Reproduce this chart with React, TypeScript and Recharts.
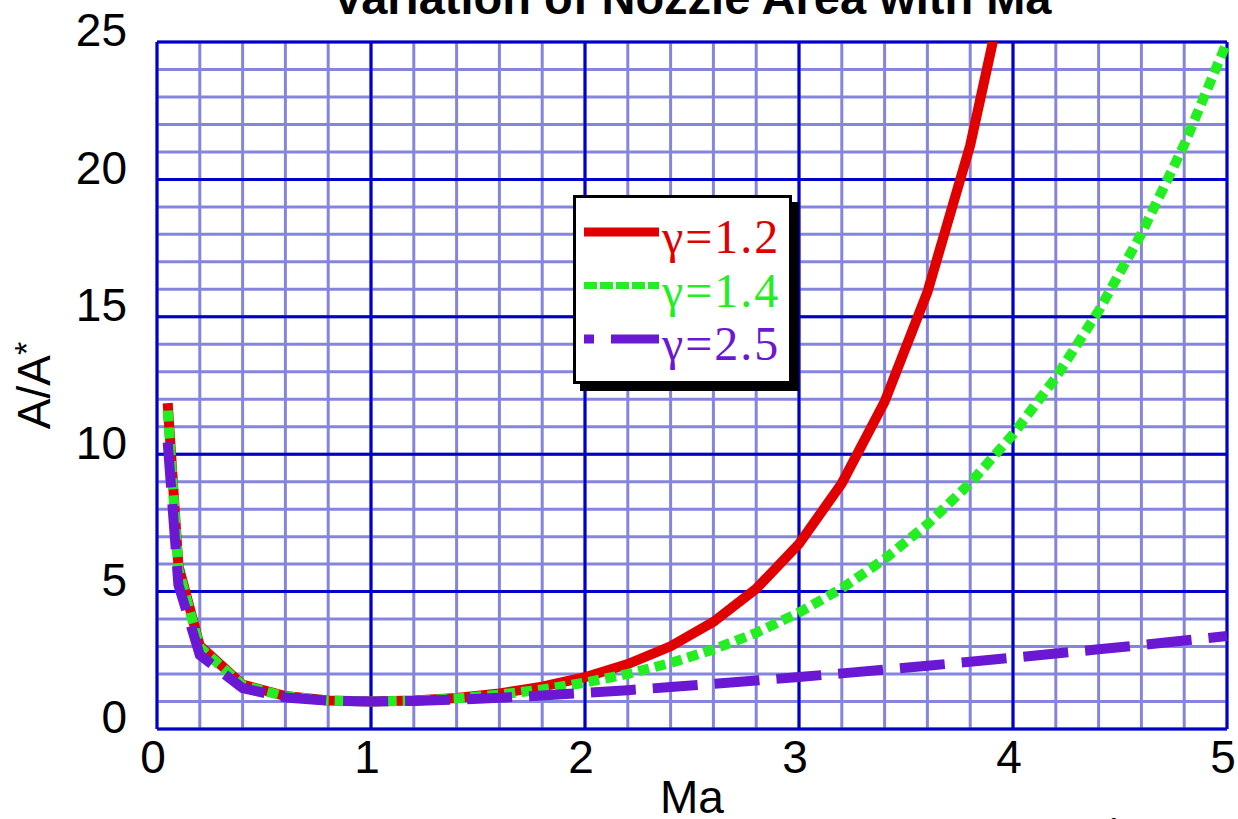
import {
  LineChart,
  Line,
  XAxis,
  YAxis,
  CartesianGrid,
  Legend,
} from 'recharts';

// Mach number samples
const mach = [
  0.05, 0.1, 0.2, 0.4, 0.6, 0.8, 1.0, 1.2, 1.4, 1.6, 1.8, 2.0, 2.2, 2.4,
  2.6, 2.8, 3.0, 3.2, 3.4, 3.6, 3.8, 4.0, 4.2, 4.4, 4.6, 4.8, 5.0,
];

// A/A* (gamma = 1.2 runs off the top after Ma 3.9)
const ratioG12 = [
  11.86, 5.95, 3.03, 1.615, 1.199, 1.041, 1.0, 1.034, 1.132, 1.296, 1.54,
  1.884, 2.36, 3.011, 3.898, 5.103, 6.735, 8.941, 11.91, 15.9, 21.24, 28.36,
];
const ratioG14 = [
  11.59, 5.82, 2.964, 1.59, 1.188, 1.038, 1.0, 1.03, 1.115, 1.25, 1.439,
  1.688, 2.005, 2.403, 2.896, 3.5, 4.235, 5.121, 6.184, 7.45, 8.951, 10.72,
  12.79, 15.21, 18.02, 21.26, 25.0,
];
const ratioG25 = [
  10.43, 5.25, 2.694, 1.485, 1.147, 1.028, 1.0, 1.019, 1.068, 1.136, 1.218,
  1.312, 1.414, 1.525, 1.642, 1.764, 1.892, 2.024, 2.161, 2.302, 2.446,
  2.594, 2.745, 2.9, 3.057, 3.218, 3.381,
];

const xTicks = [0, 1, 2, 3, 4, 5];
const yTicks = [0, 5, 10, 15, 20, 25];
const xMinor = [
  0, 0.2, 0.4, 0.6, 0.8, 1, 1.2, 1.4, 1.6, 1.8, 2, 2.2, 2.4, 2.6, 2.8, 3,
  3.2, 3.4, 3.6, 3.8, 4, 4.2, 4.4, 4.6, 4.8, 5,
];
const yMinor = [
  0, 1, 2, 3, 4, 5, 6, 7, 8, 9, 10, 11, 12, 13, 14, 15, 16, 17, 18, 19, 20,
  21, 22, 23, 24, 25,
];

const series = [
  { key: 'g12', label: 'γ=1.2', color: '#e00000', width: 10, dash: undefined },
  { key: 'g14', label: 'γ=1.4', color: '#22ee22', width: 10, dash: '11 6' },
  { key: 'g25', label: 'γ=2.5', color: '#6a18d4', width: 10, dash: '45 17' },
];

const chartData = mach.map((m, i) => ({
  ma: m,
  g12: i < ratioG12.length ? ratioG12[i] : null,
  g14: ratioG14[i],
  g25: ratioG25[i],
}));

const SANS = '"Liberation Sans", Arial, Helvetica, sans-serif';
const SERIF = '"Liberation Serif", "Times New Roman", serif';

const XTick = ({ x, y, payload }: any) => (
  <text x={x - 4} y={y + 44} textAnchor="middle" fontSize={46} fontFamily={SANS} fill="#000">
    {payload.value}
  </text>
);

const YTick = ({ x, y, payload }: any) => (
  <text x={x} y={y - 12} dy="0.355em" textAnchor="end" fontSize={46} fontFamily={SANS} fill="#000">
    {payload.value}
  </text>
);

const YLabel = ({ viewBox }: any) => {
  const cy = viewBox.y + viewBox.height / 2;
  return (
    <text
      x={50}
      y={cy}
      transform={`rotate(-90, 50, ${cy})`}
      textAnchor="middle"
      fontSize={46}
      fontFamily={SANS}
      fill="#000"
    >
      A/A
      <tspan fontSize={34} dy={-12}>*</tspan>
    </text>
  );
};

const LegendBox = () => (
  <div
    style={{
      width: 219,
      height: 189,
      boxSizing: 'border-box',
      border: '3px solid #000',
      background: '#fff',
      boxShadow: '7px 7px 0 #000',
      position: 'relative',
    }}
  >
    <svg width={213} height={183} style={{ position: 'absolute', left: 0, top: 0 }}>
      {series.map((s, i) => {
        const ly = 34 + i * 53.5;
        return (
          <g key={s.key}>
            {s.key === 'g25' ? (
              <>
                <line x1={8} x2={18} y1={ly} y2={ly} stroke={s.color} strokeWidth={9} />
                <line x1={35} x2={83} y1={ly} y2={ly} stroke={s.color} strokeWidth={9} />
              </>
            ) : (
              <line
                x1={8}
                x2={83}
                y1={ly}
                y2={ly}
                stroke={s.color}
                strokeWidth={s.key === 'g12' ? 9 : 7}
                strokeDasharray={s.key === 'g14' ? '13 3' : undefined}
              />
            )}
            <text x={86} y={ly + 21} fontSize={48} fontFamily={SERIF} fill={s.color} letterSpacing={2}>
              {s.label}
            </text>
          </g>
        );
      })}
    </svg>
  </div>
);

const App = () => {
  return (
    <div style={{ position: 'absolute', left: 0, top: 0, width: 1238, height: 819, overflow: 'hidden', background: '#fff' }}>
      <div
        style={{
          position: 'absolute',
          left: 0,
          width: 1384,
          top: -26,
          textAlign: 'center',
          fontFamily: SANS,
          fontWeight: 'bold',
          fontSize: 47,
          lineHeight: '47px',
          zIndex: 2,
        }}
      >
        Variation of Nozzle Area with Ma
      </div>
      <LineChart
        width={1238}
        height={819}
        data={chartData}
        margin={{ top: 42, right: 11, left: 0, bottom: 0 }}
      >
        <CartesianGrid
          horizontalValues={yMinor}
          verticalValues={xMinor}
          stroke="#8585de"
          strokeWidth={3}
        />
        <CartesianGrid
          horizontalValues={yTicks}
          verticalValues={xTicks}
          stroke="#0000c8"
          strokeWidth={3}
        />
        <XAxis
          type="number"
          dataKey="ma"
          domain={[0, 5]}
          ticks={xTicks}
          axisLine={false}
          tickLine={false}
          tickSize={0}
          tickMargin={0}
          height={90}
          tick={<XTick />}
          label={{
            value: 'Ma',
            position: 'insideBottom',
            offset: 6,
            fontSize: 46,
            fontFamily: SANS,
            fill: '#000',
          }}
        />
        <YAxis
          type="number"
          domain={[0, 25]}
          ticks={yTicks}
          allowDataOverflow
          axisLine={false}
          tickLine={false}
          tickSize={0}
          tickMargin={30}
          width={157}
          tick={<YTick />}
          label={{ content: <YLabel /> } as any}
        />
        <Legend
          layout="horizontal"
          verticalAlign="middle"
          align="center"
          wrapperStyle={{ left: 573, top: 195, width: 219, height: 189 }}
          content={() => <LegendBox />}
        />
        {series.map((s) => (
          <Line
            key={s.key}
            type="linear"
            dataKey={s.key}
            stroke={s.color}
            strokeWidth={s.width}
            strokeDasharray={s.dash}
            dot={false}
            activeDot={false}
            connectNulls={false}
            isAnimationActive={false}
          />
        ))}
      </LineChart>
      <div
        style={{
          position: 'absolute',
          left: 1104,
          top: 812,
          fontFamily: SANS,
          fontSize: 34,
          lineHeight: '34px',
        }}
      >
        1
      </div>
    </div>
  );
};

export default App;
